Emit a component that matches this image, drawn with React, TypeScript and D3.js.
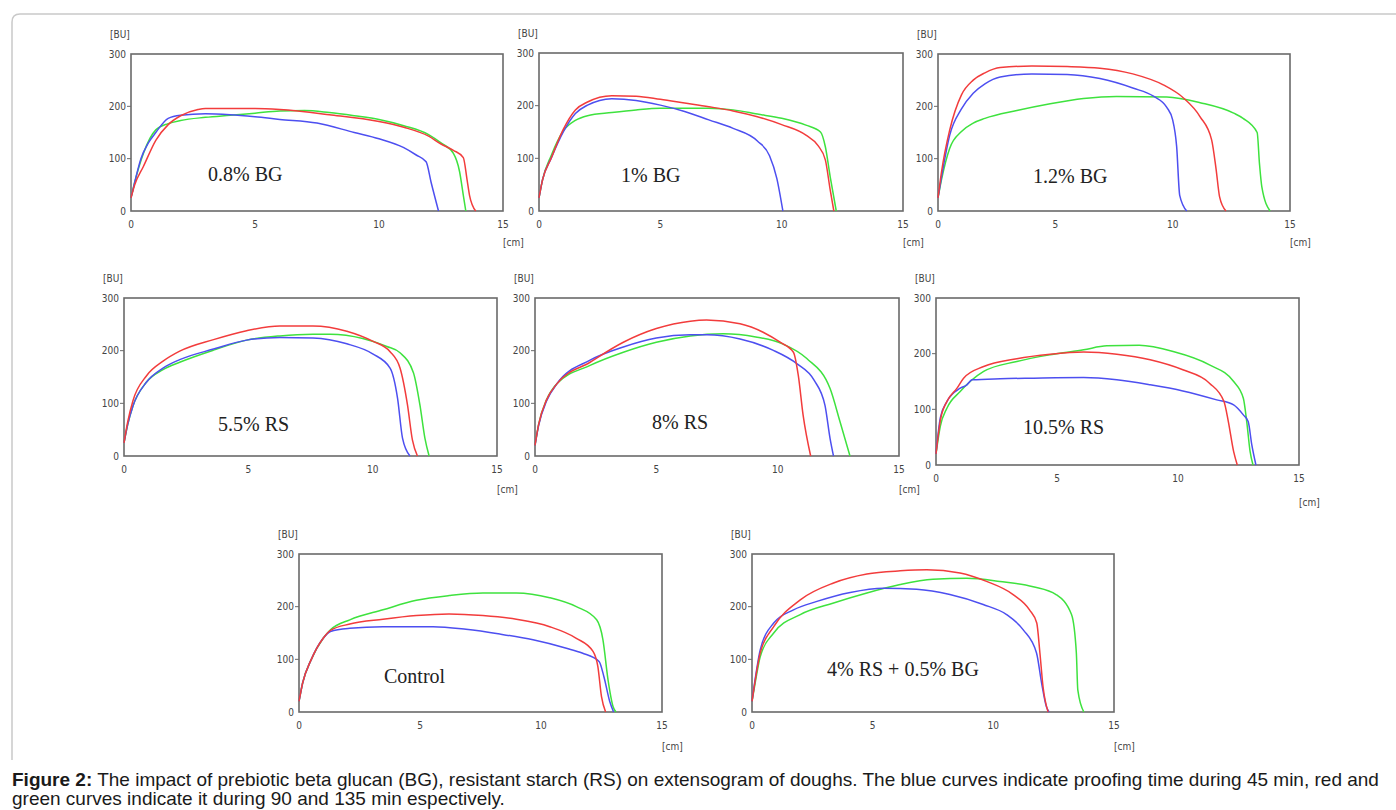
import React from 'react';
import * as d3 from 'd3';

type Pt = [number, number];

// panel titles, in reading order
const panelLabels = ['0.8% BG', '1% BG', '1.2% BG', '5.5% RS', '8% RS', '10.5% RS', 'Control', '4% RS + 0.5% BG'];

// extensogram curves: [extension (cm), resistance (BU)]
// blue = 45 min proofing
const blueCurves: Pt[][] = [
  [[0,25],[0.15,55],[0.4,100],[0.7,130],[1,150],[1.5,177],[2,183],[3,186],[4,184],[5,180],[6,175],[7.5,168],[9,150],[10,138],[11,121],[11.5,107],[11.9,94],[12.1,55],[12.4,0]],
  [[0,25],[0.15,60],[0.5,100],[1,150],[1.5,185],[2,201],[2.5,210],[3,213],[4,210],[5,201],[6,189],[7,173],[8,157],[9,133],[9.5,105],[9.8,62],[10.05,0]],
  [[0,25],[0.15,65],[0.5,145],[1,195],[1.5,225],[2,243],[2.65,256],[4,262],[5.5,261],[6.9,253],[8.3,235],[9.2,219],[9.75,198],[10,174],[10.17,123],[10.3,30],[10.6,0]],
  [[0,25],[0.15,60],[0.36,95],[0.9,140],[1.57,167],[2.24,183],[3.6,203],[4.93,220],[6.27,225],[7.6,224],[8.96,213],[10,194],[10.7,167],[11,110],[11.2,34],[11.5,0]],
  [[0,20],[0.15,58],[0.48,105],[0.9,137],[2.27,182],[3.64,207],[5,224],[6.4,230],[7.07,230],[8.45,222],[9.8,201],[10.8,175],[11.5,144],[11.95,96],[12.16,33],[12.3,0]],
  [[0,20],[0.18,85],[0.45,114],[1,138],[1.28,144],[1.49,153],[2.66,155],[4.03,156],[6.1,157],[7.47,153],[8.85,144],[10.2,133],[11.6,117],[12.3,108],[12.7,90],[12.9,78],[13.05,36],[13.22,0]],
  [[0,20],[0.15,55],[0.5,99],[1,140],[1.3,153],[2.1,159],[3.47,162],[5.54,162],[6.9,157],[8.3,148],[9.67,137],[11.05,121],[11.7,112],[12.4,96],[12.6,67],[12.84,20],[13,0]],
  [[0,20],[0.15,68],[0.34,118],[0.9,169],[1.72,194],[2.69,210],[4.07,227],[5.45,235],[6.82,233],[8.2,223],[9.58,204],[10.55,185],[11.24,156],[11.79,112],[12,55],[12.2,10],[12.31,0]],
];

// red = 90 min proofing
const redCurves: Pt[][] = [
  [[0,25],[0.15,50],[0.5,85],[1,135],[1.5,165],[2,182],[2.7,194],[3,196],[5,196],[6,194],[8,184],[10,171],[11,160],[12,143],[12.5,128],[13,116],[13.4,102],[13.55,60],[13.65,30],[13.9,0]],
  [[0,25],[0.15,60],[0.5,100],[1,155],[1.5,192],[2,207],[3,219],[4,218],[5,212],[6,205],[7,198],[8,190],[9,179],[10,164],[11,144],[11.5,124],[11.8,97],[12,40],[12.15,0]],
  [[0,25],[0.15,75],[0.5,155],[1,222],[1.5,250],[2,264],[2.65,274],[4,277],[5.5,276],[6.9,273],[8.3,262],[9.6,241],[10.46,216],[11.17,180],[11.66,136],[11.85,80],[12,27],[12.27,0]],
  [[0,25],[0.15,65],[0.36,105],[0.9,152],[1.57,180],[2.24,199],[3.6,221],[4.93,238],[6.27,247],[7.6,247],[8.96,237],[10,218],[10.7,198],[11.1,167],[11.4,97],[11.6,30],[11.8,0]],
  [[0,20],[0.15,60],[0.48,107],[0.9,137],[2.27,178],[3.64,216],[5,242],[6.4,256],[7.07,258],[8.45,251],[9.4,235],[10.1,216],[10.65,197],[10.85,153],[11.05,77],[11.36,0]],
  [[0,20],[0.18,80],[0.45,114],[0.87,138],[1.14,156],[1.97,177],[3.34,191],[4.72,199],[6.1,203],[7.47,199],[8.85,189],[10.2,171],[11.3,147],[11.9,114],[12.08,78],[12.3,24],[12.45,0]],
  [[0,20],[0.15,55],[0.5,99],[1,140],[1.3,155],[2.1,167],[3.47,176],[4.85,183],[6.2,186],[7.6,183],[8.98,176],[10.36,162],[11.46,140],[12.15,115],[12.35,86],[12.5,29],[12.67,0]],
  [[0,20],[0.15,65],[0.34,112],[0.9,162],[2,213],[3.38,245],[4.76,262],[6.14,268],[7.24,270],[8.62,264],[9.72,248],[10.82,223],[11.5,194],[11.8,169],[11.93,112],[12.06,48],[12.27,0]],
];

// green = 135 min proofing
const greenCurves: Pt[][] = [
  [[0,25],[0.15,55],[0.5,110],[1,155],[1.5,167],[2,173],[3,179],[4,183],[5,187],[6,191],[7,192],[8,188],[9,182],[10,175],[11,163],[12,146],[12.5,130],[13,110],[13.25,75],[13.4,30],[13.5,0]],
  [[0,25],[0.15,60],[0.5,105],[1,152],[1.5,172],[2,181],[3,187],[4,192],[5,195],[7,195],[8,192],[9,184],[10,176],[11,163],[11.6,150],[11.8,122],[12,65],[12.25,0]],
  [[0,25],[0.15,60],[0.5,120],[1,152],[1.5,168],[2,177],[3.36,192],[4.78,205],[6.2,215],[7.6,219],[9.75,218],[11.17,207],[12.6,187],[13,177],[13.6,150],[13.7,90],[13.8,46],[14.15,0]],
  [[0,25],[0.15,60],[0.36,95],[0.9,140],[1.57,164],[2.24,178],[3.6,201],[4.93,220],[6.27,228],[7.6,231],[8.3,231],[9.6,223],[10.57,208],[11.1,196],[11.64,158],[11.9,97],[12.1,34],[12.27,0]],
  [[0,20],[0.15,60],[0.48,107],[0.9,137],[2.27,172],[3.64,197],[5,216],[6.4,228],[7.76,232],[9.1,226],[10.2,213],[11.2,185],[12.16,128],[12.57,65],[12.98,0]],
  [[0,20],[0.18,70],[0.45,102],[1,132],[1.97,168],[3.34,186],[4.72,198],[6.1,207],[7.06,214],[8.4,215],[9.8,204],[11.3,180],[12.3,150],[12.7,120],[12.84,78],[12.98,24],[13.1,0]],
  [[0,20],[0.15,55],[0.5,99],[1,140],[1.3,156],[2.1,175],[3.47,194],[4.85,212],[6.2,221],[7.6,226],[8.98,226],[10.36,217],[11.46,200],[12.3,175],[12.56,137],[12.77,61],[12.98,10],[13.1,0]],
  [[0,20],[0.15,60],[0.34,105],[0.9,150],[2,185],[3.38,207],[4.76,226],[6.14,242],[7.5,252],[8.9,254],[10.27,248],[11.65,238],[12.6,223],[13.24,185],[13.44,112],[13.5,42],[13.75,0]],
];

const xTicks = [0, 5, 10, 15];
const yTicks = [0, 100, 200, 300];

const captionBold = 'Figure 2:';
const captionLine1 = ' The impact of prebiotic beta glucan (BG), resistant starch (RS) on extensogram of doughs. The blue curves indicate proofing time during 45 min, red and';
const captionLine2 = 'green curves indicate it during 90 and 135 min espectively.';

// plot frames on the page: left, right, top, bottom, label pos, [cm] offset
const frames = [
  { l: 131, r: 503, t: 54, b: 211, lx: 208, ly: 181, cm: 31 },
  { l: 539, r: 903, t: 53, b: 211, lx: 621, ly: 182, cm: 31 },
  { l: 938, r: 1290, t: 54, b: 211, lx: 1033, ly: 183, cm: 31 },
  { l: 124, r: 497, t: 298, b: 456, lx: 218, ly: 431, cm: 33 },
  { l: 535, r: 899, t: 298, b: 456, lx: 652, ly: 429, cm: 33 },
  { l: 936, r: 1299, t: 298, b: 465, lx: 1023, ly: 434, cm: 37 },
  { l: 299, r: 662, t: 554, b: 712, lx: 384, ly: 683, cm: 34 },
  { l: 752, r: 1114, t: 554, b: 712, lx: 827, ly: 676, cm: 34 },
];

const colors = { blue: '#4d4ff0', red: '#f23c3c', green: '#3ee23e' };
const tickFont = '"Liberation Sans Narrow", "DejaVu Sans Condensed", Arial, sans-serif';

const Panel = ({ i }: { i: number }) => {
  const f = frames[i];
  const x = d3.scaleLinear().domain([0, 15]).range([f.l, f.r]);
  const y = d3.scaleLinear().domain([0, 300]).range([f.b, f.t]);
  const line = d3.line<Pt>().x(d => x(d[0])).y(d => y(d[1])).curve(d3.curveMonotoneX);

  const series = [
    { c: colors.green, d: greenCurves[i] },
    { c: colors.blue, d: blueCurves[i] },
    { c: colors.red, d: redCurves[i] },
  ];

  return (
    <g>
      <rect x={f.l} y={f.t} width={f.r - f.l} height={f.b - f.t} fill="none" stroke="#6a6a6a" strokeWidth={1.6} />
      {yTicks.map(t => (
        <g key={'y' + t}>
          {t > 0 && t < 300 && <line x1={f.l - 4} x2={f.l} y1={y(t)} y2={y(t)} stroke="#6a6a6a" strokeWidth={1} />}
          <text x={f.l - 5} y={y(t)} dy="0.35em" textAnchor="end" fontSize={10} fill="#444" fontFamily={tickFont}>{t}</text>
        </g>
      ))}
      {xTicks.map(t => (
        <text key={'x' + t} x={x(t)} y={f.b + 13} dy="0.35em" textAnchor="middle" fontSize={10} fill="#444" fontFamily={tickFont}>{t}</text>
      ))}
      <text x={f.l - 21} y={f.t - 20} dy="0.35em" fontSize={10} fill="#444" fontFamily={tickFont}>[BU]</text>
      <text x={f.r} y={f.b + f.cm} dy="0.35em" fontSize={10} fill="#444" fontFamily={tickFont}>[cm]</text>
      {series.map((s, k) => (
        <path key={k} d={line(s.d) || ''} fill="none" stroke={s.c} strokeWidth={1.5} />
      ))}
      <text x={f.lx} y={f.ly} fontSize={20} fill="#222" fontFamily='"Liberation Serif", "Times New Roman", serif'>{panelLabels[i]}</text>
    </g>
  );
};

export default function App() {
  return (
    <svg width={1396} height={810} style={{ position: 'absolute', left: 0, top: 0, background: '#fff' }}>
      <rect width={1396} height={810} fill="#fff" />
      <path d="M12,760 V22 Q12,14 20,14 H1396" fill="none" stroke="#c9c9c9" strokeWidth={1.5} />
      {frames.map((_, i) => <Panel key={i} i={i} />)}
      <g fontFamily='"Liberation Sans", Arial, sans-serif' fontSize={19} fill="#1a1a1a">
        <text x={12} y={786}>
          <tspan fontWeight="bold">{captionBold}</tspan>
          <tspan>{captionLine1}</tspan>
        </text>
        <text x={12} y={805}>{captionLine2}</text>
      </g>
    </svg>
  );
}
